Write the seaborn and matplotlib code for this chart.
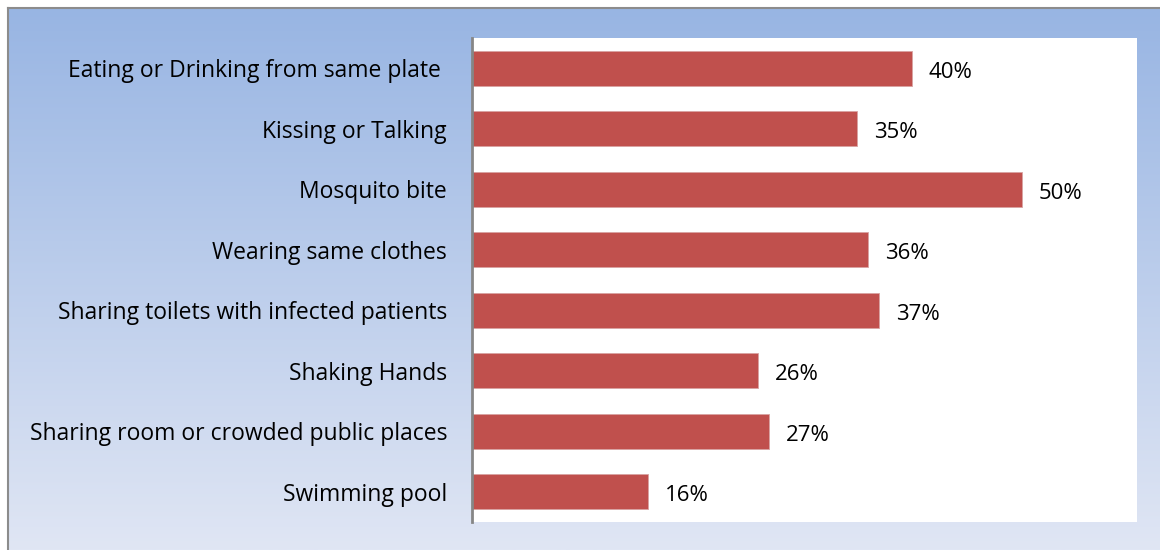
import numpy as np
import pandas as pd
import matplotlib
matplotlib.use("Agg")
import matplotlib.pyplot as plt
import seaborn as sns

categories = ["Eating or Drinking from same plate ", "Kissing or Talking", "Mosquito bite",
              "Wearing same clothes", "Sharing toilets with infected patients", "Shaking Hands",
              "Sharing room or crowded public places", "Swimming pool"]
values = [40, 35, 50, 36, 37, 26, 27, 16]
value_labels = ["40%", "35%", "50%", "36%", "37%", "26%", "27%", "16%"]

sns.set_theme(style="white")
plt.rcParams['font.family'] = ['Open Sans', 'DejaVu Sans']

W, H = 1160, 550
fig = plt.figure(figsize=(W / 100, H / 100), dpi=100)
fig.patch.set_facecolor("white")

# gradient background panel (starts at x=8, y=8 px)
bg = fig.add_axes([8 / W, 0, 1 - 8 / W, 1 - 8 / H], zorder=0)
top = np.array([152, 181, 227]) / 255
bot = np.array([224, 230, 244]) / 255
t = np.linspace(0, 1, 256)[:, None]
grad = (top[None, :] * (1 - t) + bot[None, :] * t)[:, None, :]
bg.imshow(grad, aspect="auto", extent=[0, 1, 0, 1])
bg.set_xlim(0, 1); bg.set_ylim(0, 1)
bg.set_xticks([]); bg.set_yticks([])
for s in bg.spines.values():
    s.set_visible(False)
bg.spines["top"].set_visible(True); bg.spines["left"].set_visible(True)
bg.spines["top"].set_color("#8c8c8c"); bg.spines["left"].set_color("#8c8c8c")
bg.spines["top"].set_linewidth(1.5); bg.spines["left"].set_linewidth(1.5)

x0, x1, y0, y1 = 472, 1137, 38, 522
ax = fig.add_axes([x0 / W, 1 - y1 / H, (x1 - x0) / W, (y1 - y0) / H], zorder=1)
ax.set_facecolor("white")

df = pd.DataFrame({"cat": categories, "val": values})
sns.barplot(data=df, x="val", y="cat", orient="h", color="#C0504D", saturation=1,
            width=0.58, edgecolor="#D8A3A2", linewidth=0.6, ax=ax)
ax.set_xlim(0, 60.5)
ax.set_ylim(len(categories) - 0.5, -0.5)
ax.set_xlabel(""); ax.set_ylabel("")
ax.set_xticks([])
ax.tick_params(axis="y", length=0, pad=18, labelsize=16.5, labelcolor="black")
for s in ["top", "right", "bottom"]:
    ax.spines[s].set_visible(False)
ax.spines["left"].set_color("#868686")
ax.spines["left"].set_linewidth(2)

for i, (v, lab) in enumerate(zip(values, value_labels)):
    ax.annotate(lab, xy=(v, i), xytext=(17, -4), textcoords="offset pixels",
                va="center", ha="left", fontsize=16, color="black")

fig.savefig("out.png", dpi=100)
